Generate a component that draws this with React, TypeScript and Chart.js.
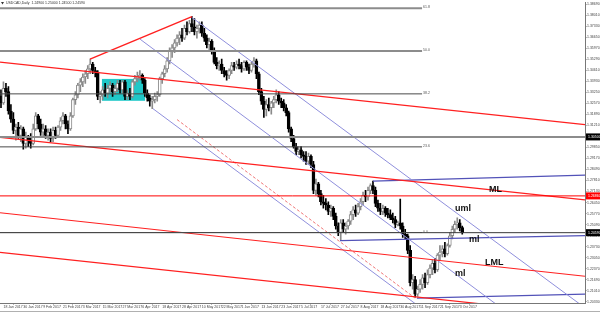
import React, { useEffect, useRef } from "react";
import { Chart, registerables } from "chart.js";

Chart.register(...registerables);

// ---- Daily USDCAD candles (bar 0 = 16 Jan 2017) ----
const opens = [
  1.3280, 1.3300, 1.3260, 1.3350, 1.3330, 1.3210, 1.3160, 1.3090, 1.3110, 1.3060,
  1.3100, 1.3010, 1.3050, 1.3030, 1.3010, 1.3100, 1.3180, 1.3130, 1.3080, 1.3100,
  1.3060, 1.3080, 1.3040, 1.3090, 1.3060, 1.3110, 1.3150, 1.3180, 1.3130, 1.3100,
  1.3180, 1.3280, 1.3310, 1.3370, 1.3390, 1.3420, 1.3440, 1.3470, 1.3500, 1.3460,
  1.3450, 1.3300, 1.3310, 1.3340, 1.3320, 1.3350, 1.3370, 1.3330, 1.3350, 1.3380,
  1.3340, 1.3390, 1.3300, 1.3320, 1.3300, 1.3390, 1.3410, 1.3420, 1.3430, 1.3400,
  1.3320, 1.3290, 1.3270, 1.3280, 1.3300, 1.3310, 1.3410, 1.3440, 1.3470, 1.3520,
  1.3580, 1.3600, 1.3630, 1.3660, 1.3680, 1.3660, 1.3720, 1.3700, 1.3750, 1.3730,
  1.3700, 1.3720, 1.3740, 1.3690, 1.3660, 1.3620, 1.3640, 1.3580, 1.3510, 1.3490,
  1.3500, 1.3460, 1.3440, 1.3430, 1.3460, 1.3490, 1.3480, 1.3500, 1.3490, 1.3470,
  1.3510, 1.3480, 1.3460, 1.3500, 1.3520, 1.3440, 1.3330, 1.3270, 1.3220, 1.3250,
  1.3230, 1.3260, 1.3280, 1.3310, 1.3270, 1.3260, 1.3230, 1.3200, 1.3100, 1.3040,
  1.2990, 1.2960, 1.2970, 1.2940, 1.2930, 1.2900, 1.2930, 1.2880, 1.2720, 1.2760,
  1.2700, 1.2650, 1.2640, 1.2630, 1.2590, 1.2610, 1.2560, 1.2500, 1.2460, 1.2520,
  1.2480, 1.2500, 1.2530, 1.2570, 1.2600, 1.2580, 1.2620, 1.2650, 1.2690, 1.2680,
  1.2720, 1.2750, 1.2720, 1.2640, 1.2610, 1.2590, 1.2610, 1.2580, 1.2570, 1.2550,
  1.2540, 1.2510, 1.2520, 1.2500, 1.2450, 1.2440, 1.2350, 1.2150, 1.2170, 1.2080,
  1.2110, 1.2140, 1.2180, 1.2150, 1.2200, 1.2240, 1.2270, 1.2230, 1.2320, 1.2340,
  1.2360, 1.2330, 1.2380, 1.2440, 1.2480, 1.2510, 1.2520, 1.2490,
];
const highs = [
  1.3320, 1.3340, 1.3390, 1.3380, 1.3360, 1.3250, 1.3200, 1.3130, 1.3140, 1.3120,
  1.3110, 1.3080, 1.3060, 1.3070, 1.3130, 1.3200, 1.3190, 1.3160, 1.3130, 1.3120,
  1.3100, 1.3100, 1.3110, 1.3110, 1.3120, 1.3170, 1.3200, 1.3190, 1.3150, 1.3200,
  1.3290, 1.3330, 1.3380, 1.3410, 1.3440, 1.3460, 1.3490, 1.3530, 1.3510, 1.3480,
  1.3460, 1.3330, 1.3360, 1.3380, 1.3370, 1.3390, 1.3380, 1.3370, 1.3400, 1.3400,
  1.3400, 1.3400, 1.3340, 1.3350, 1.3400, 1.3430, 1.3450, 1.3460, 1.3440, 1.3410,
  1.3340, 1.3310, 1.3300, 1.3320, 1.3330, 1.3420, 1.3450, 1.3490, 1.3540, 1.3600,
  1.3620, 1.3650, 1.3680, 1.3700, 1.3720, 1.3740, 1.3760, 1.3770, 1.3793, 1.3780,
  1.3740, 1.3760, 1.3760, 1.3720, 1.3680, 1.3660, 1.3650, 1.3600, 1.3540, 1.3520,
  1.3530, 1.3480, 1.3460, 1.3470, 1.3510, 1.3510, 1.3520, 1.3530, 1.3510, 1.3520,
  1.3520, 1.3500, 1.3510, 1.3540, 1.3530, 1.3450, 1.3350, 1.3300, 1.3280, 1.3290,
  1.3270, 1.3300, 1.3340, 1.3330, 1.3290, 1.3280, 1.3250, 1.3210, 1.3110, 1.3060,
  1.3010, 1.2990, 1.2990, 1.2960, 1.2960, 1.2950, 1.2940, 1.2900, 1.2790, 1.2770,
  1.2720, 1.2690, 1.2670, 1.2650, 1.2630, 1.2620, 1.2580, 1.2520, 1.2540, 1.2540,
  1.2520, 1.2540, 1.2590, 1.2620, 1.2630, 1.2640, 1.2670, 1.2710, 1.2720, 1.2740,
  1.2760, 1.2777, 1.2740, 1.2660, 1.2640, 1.2630, 1.2620, 1.2610, 1.2600, 1.2580,
  1.2560, 1.2530, 1.2667, 1.2520, 1.2480, 1.2450, 1.2380, 1.2200, 1.2190, 1.2130,
  1.2170, 1.2200, 1.2210, 1.2230, 1.2260, 1.2290, 1.2300, 1.2330, 1.2380, 1.2380,
  1.2400, 1.2390, 1.2460, 1.2500, 1.2530, 1.2550, 1.2540, 1.2500,
];
const lows = [
  1.3240, 1.3230, 1.3250, 1.3300, 1.3190, 1.3140, 1.3070, 1.3030, 1.3040, 1.3020,
  1.2975, 1.2980, 1.2990, 1.2980, 1.3000, 1.3090, 1.3100, 1.3060, 1.3050, 1.3040,
  1.3030, 1.3020, 1.3020, 1.3040, 1.3050, 1.3090, 1.3130, 1.3100, 1.3070, 1.3090,
  1.3170, 1.3250, 1.3290, 1.3330, 1.3360, 1.3380, 1.3410, 1.3440, 1.3440, 1.3420,
  1.3280, 1.3260, 1.3280, 1.3300, 1.3290, 1.3320, 1.3300, 1.3310, 1.3330, 1.3320,
  1.3320, 1.3280, 1.3280, 1.3280, 1.3290, 1.3370, 1.3390, 1.3400, 1.3380, 1.3300,
  1.3270, 1.3240, 1.3225, 1.3260, 1.3270, 1.3300, 1.3380, 1.3420, 1.3450, 1.3500,
  1.3540, 1.3570, 1.3610, 1.3620, 1.3640, 1.3650, 1.3680, 1.3690, 1.3700, 1.3680,
  1.3660, 1.3690, 1.3670, 1.3640, 1.3600, 1.3580, 1.3560, 1.3500, 1.3470, 1.3460,
  1.3440, 1.3420, 1.3400, 1.3410, 1.3440, 1.3460, 1.3470, 1.3470, 1.3450, 1.3460,
  1.3460, 1.3440, 1.3450, 1.3480, 1.3410, 1.3310, 1.3250, 1.3170, 1.3180, 1.3210,
  1.3190, 1.3230, 1.3260, 1.3250, 1.3230, 1.3210, 1.3180, 1.3080, 1.3020, 1.2980,
  1.2940, 1.2940, 1.2920, 1.2900, 1.2880, 1.2880, 1.2860, 1.2700, 1.2690, 1.2680,
  1.2630, 1.2610, 1.2600, 1.2570, 1.2560, 1.2540, 1.2480, 1.2440, 1.2413, 1.2460,
  1.2450, 1.2480, 1.2510, 1.2540, 1.2560, 1.2570, 1.2600, 1.2630, 1.2650, 1.2660,
  1.2700, 1.2700, 1.2620, 1.2590, 1.2570, 1.2570, 1.2560, 1.2550, 1.2540, 1.2520,
  1.2490, 1.2500, 1.2480, 1.2430, 1.2420, 1.2330, 1.2130, 1.2110, 1.2061, 1.2065,
  1.2090, 1.2110, 1.2120, 1.2140, 1.2180, 1.2200, 1.2210, 1.2220, 1.2290, 1.2310,
  1.2310, 1.2320, 1.2370, 1.2420, 1.2460, 1.2480, 1.2470, 1.2450,
];
const closes = [
  1.3300, 1.3260, 1.3350, 1.3330, 1.3210, 1.3160, 1.3090, 1.3110, 1.3060, 1.3100,
  1.3010, 1.3050, 1.3030, 1.3010, 1.3100, 1.3180, 1.3130, 1.3080, 1.3100, 1.3060,
  1.3080, 1.3040, 1.3090, 1.3060, 1.3110, 1.3150, 1.3180, 1.3130, 1.3100, 1.3180,
  1.3280, 1.3310, 1.3370, 1.3390, 1.3420, 1.3440, 1.3470, 1.3500, 1.3460, 1.3450,
  1.3300, 1.3310, 1.3340, 1.3320, 1.3350, 1.3370, 1.3330, 1.3350, 1.3380, 1.3340,
  1.3390, 1.3300, 1.3320, 1.3300, 1.3390, 1.3410, 1.3420, 1.3430, 1.3400, 1.3320,
  1.3290, 1.3270, 1.3280, 1.3300, 1.3310, 1.3410, 1.3440, 1.3470, 1.3520, 1.3580,
  1.3600, 1.3630, 1.3660, 1.3680, 1.3660, 1.3720, 1.3700, 1.3750, 1.3730, 1.3700,
  1.3720, 1.3740, 1.3690, 1.3660, 1.3620, 1.3640, 1.3580, 1.3510, 1.3490, 1.3500,
  1.3460, 1.3440, 1.3430, 1.3460, 1.3490, 1.3480, 1.3500, 1.3490, 1.3470, 1.3510,
  1.3480, 1.3460, 1.3500, 1.3520, 1.3440, 1.3330, 1.3270, 1.3220, 1.3250, 1.3230,
  1.3260, 1.3280, 1.3310, 1.3270, 1.3260, 1.3230, 1.3200, 1.3100, 1.3040, 1.2990,
  1.2960, 1.2970, 1.2940, 1.2930, 1.2900, 1.2930, 1.2880, 1.2720, 1.2760, 1.2700,
  1.2650, 1.2640, 1.2630, 1.2590, 1.2610, 1.2560, 1.2500, 1.2460, 1.2520, 1.2480,
  1.2500, 1.2530, 1.2570, 1.2600, 1.2580, 1.2620, 1.2650, 1.2690, 1.2680, 1.2720,
  1.2750, 1.2720, 1.2640, 1.2610, 1.2590, 1.2610, 1.2580, 1.2570, 1.2550, 1.2540,
  1.2510, 1.2520, 1.2500, 1.2450, 1.2440, 1.2350, 1.2150, 1.2170, 1.2080, 1.2110,
  1.2140, 1.2180, 1.2150, 1.2200, 1.2240, 1.2270, 1.2230, 1.2320, 1.2340, 1.2360,
  1.2330, 1.2380, 1.2440, 1.2480, 1.2510, 1.2520, 1.2490, 1.2459,
];

// ---- axis tick labels ----
const xTickIndex = [2, 10, 18, 26, 34, 42, 50, 58, 66, 74, 82, 90, 98, 106, 114, 122, 130, 138, 146, 154, 162, 170, 178, 186];
const xTickLabels = [
  "18 Jan 2017", "30 Jan 2017", "9 Feb 2017", "21 Feb 2017", "3 Mar 2017", "15 Mar 2017",
  "27 Mar 2017", "6 Apr 2017", "18 Apr 2017", "28 Apr 2017", "10 May 2017", "22 May 2017",
  "1 Jun 2017", "13 Jun 2017", "23 Jun 2017", "5 Jul 2017", "17 Jul 2017", "27 Jul 2017",
  "8 Aug 2017", "18 Aug 2017", "30 Aug 2017", "11 Sep 2017", "21 Sep 2017", "3 Oct 2017",
];
const yTickValues = [
  1.3869, 1.3801, 1.3733, 1.3665, 1.3597, 1.3529, 1.3461, 1.3393, 1.3325, 1.3257,
  1.3189, 1.3121, 1.3053, 1.2985, 1.2917, 1.2849, 1.2781, 1.2713, 1.2645, 1.2577,
  1.2509, 1.2441, 1.2373, 1.2305, 1.2237, 1.2169, 1.2101, 1.2033,
];

// ---- drawn objects (bar index, price) ----
const redChannelTop = [[0.6, 1.3512], [236.5, 1.3126]];
const medianLine = [[0.6, 1.3047], [236.5, 1.2661]];
const lowerMedianLine = [[0.6, 1.2582], [236.5, 1.2190]];
const redChannelBottom = [[0.6, 1.2337], [236.5, 1.1951]];
const redHighsLine = [[36.9, 1.3530], [78, 1.3793]];
const pinkDashedLine = [[72, 1.3157], [168, 1.2055]];
const umlLine = [[78, 1.3787], [242.5, 1.1927]];
const mlLine = [[57.1, 1.3653], [242.5, 1.1541]];
const lowerBlueLine = [[62.3, 1.3224], [242.5, 1.1174]];
const blueHandleTop = [[151, 1.2777], [236.5, 1.2814]];
const blueHandleMid = [[137.7, 1.2410], [236.5, 1.2441]];
const blueHandleLow = [[168.7, 1.2055], [236.5, 1.2080]];
const cyanBox = [[41.7, 1.3408], [59.1, 1.3273]];

const supportLevel = 1.3050;
const redLevel = 1.2686;
const bidPrice = closes[closes.length - 1];

const fibZero = 1.2460;
const fibHundred = 1.4700;
const fibRatios = [0, 23.6, 38.2, 50.0, 61.8];
const fibEndIndex = 170.8;

const lineLabels = [
  { text: "ML", x: 197.8, y: 1.2728 },
  { text: "uml", x: 184.1, y: 1.2606 },
  { text: "ml", x: 189.7, y: 1.2416 },
  { text: "LML", x: 196.2, y: 1.2276 },
  { text: "ml", x: 184.1, y: 1.2210 },
];

const X_MIN = 0.6;
const X_MAX = 236.5;
const Y_MIN = 1.2025;
const Y_MAX = 1.3879;

const SMALL_FONT = "Liberation Sans";

function lineDs(points: number[][], color: string, width: number, dash: number[] = []) {
  return {
    type: "line" as const,
    data: points.map(([x, y]) => ({ x, y })),
    borderColor: color,
    borderWidth: width,
    borderDash: dash,
    pointRadius: 0,
    fill: false,
    tension: 0,
    order: 0,
  };
}

const overlayPlugin = {
  id: "mtOverlay",
  beforeDatasetsDraw(chart: any) {
    const { ctx, scales } = chart;
    const x = scales.x, y = scales.y;
    const x1 = x.getPixelForValue(cyanBox[0][0]);
    const x2 = x.getPixelForValue(cyanBox[1][0]);
    const y1 = y.getPixelForValue(cyanBox[0][1]);
    const y2 = y.getPixelForValue(cyanBox[1][1]);
    ctx.save();
    ctx.fillStyle = "#20c8c8";
    ctx.fillRect(x1, y1, x2 - x1, y2 - y1);
    ctx.restore();
  },
  afterDatasetsDraw(chart: any) {
    const { ctx, scales } = chart;
    const x = scales.x, y = scales.y;
    ctx.save();
    ctx.font = `3.5px "${SMALL_FONT}"`;
    ctx.fillStyle = "#555";
    ctx.textAlign = "left";
    ctx.textBaseline = "bottom";
    const fx = x.getPixelForValue(fibEndIndex) + 1;
    fibRatios.forEach((r) => {
      const p = fibZero + (fibHundred - fibZero) * (r / 100);
      ctx.fillText(r.toFixed(1), fx, y.getPixelForValue(p) + 1);
    });
    ctx.font = `bold 9px "Liberation Sans", Arial, sans-serif`;
    ctx.fillStyle = "#111";
    ctx.textBaseline = "middle";
    lineLabels.forEach((l) => {
      ctx.fillText(l.text, x.getPixelForValue(l.x), y.getPixelForValue(l.y));
    });
    ctx.restore();
  },
  afterDraw(chart: any) {
    const { ctx, scales, chartArea, width } = chart;
    const y = scales.y;
    ctx.save();
    const x0 = chartArea.right + 1;
    const boxes = [
      { v: supportLevel, bg: "#000", fg: "#fff" },
      { v: redLevel, bg: "#ff0000", fg: "#fff" },
      { v: bidPrice, bg: "#000", fg: "#fff" },
    ];
    ctx.font = `3.5px "${SMALL_FONT}"`;
    ctx.textAlign = "left";
    ctx.textBaseline = "middle";
    boxes.forEach((b) => {
      const py = y.getPixelForValue(b.v);
      ctx.fillStyle = b.bg;
      ctx.fillRect(x0, py - 3.5, width - x0, 7);
      ctx.fillStyle = b.fg;
      ctx.fillText(b.v.toFixed(5), x0 + 2, py);
    });
    ctx.fillStyle = "#333";
    ctx.beginPath();
    ctx.moveTo(1, 2);
    ctx.lineTo(4, 2);
    ctx.lineTo(2.5, 4.5);
    ctx.closePath();
    ctx.fill();
    ctx.font = `3.5px "${SMALL_FONT}"`;
    ctx.fillText(
      `USDCAD,Daily  ${opens[opens.length - 1].toFixed(5)} ${highs[highs.length - 1].toFixed(5)} ${lows[lows.length - 1].toFixed(5)} ${closes[closes.length - 1].toFixed(5)}`,
      6,
      3.5
    );
    ctx.strokeStyle = "#b0b0b0";
    ctx.lineWidth = 1;
    ctx.beginPath();
    ctx.moveTo(0, 311.5);
    ctx.lineTo(width, 311.5);
    ctx.stroke();
    ctx.restore();
  },
};

export default function App() {
  const ref = useRef<HTMLCanvasElement>(null);
  useEffect(() => {
    if (!ref.current) return;
    const bull = closes.map((c, i) => c >= opens[i]);
    const idx = closes.map((_, i) => i);
    const fibDatasets = fibRatios.map((r) => {
      const p = fibZero + (fibHundred - fibZero) * (r / 100);
      const thick = r >= 50;
      return lineDs([[X_MIN, p], [fibEndIndex, p]], thick ? "#8c8c8c" : "#4a4a4a", thick ? 2 : 1);
    });
    const chart = new Chart(ref.current, {
      type: "bar",
      data: {
        datasets: [
          {
            data: idx.map((i) => ({ x: i, y: [lows[i], highs[i]] })) as any,
            backgroundColor: bull.map((b) => (b ? "#8a8a8a" : "#000")),
            borderWidth: 0,
            barThickness: 1,
            grouped: false,
            order: 2,
          } as any,
          {
            data: idx.map((i) => ({ x: i, y: [opens[i], closes[i]] })) as any,
            backgroundColor: bull.map((b) => (b ? "#ffffff" : "#000")),
            borderColor: bull.map((b) => (b ? "#8a8a8a" : "#000")),
            borderWidth: 1,
            borderSkipped: false,
            barThickness: 3,
            grouped: false,
            order: 1,
          } as any,
          ...fibDatasets,
          lineDs([[X_MIN, supportLevel], [X_MAX, supportLevel]], "#8c8c8c", 2),
          lineDs([[X_MIN, bidPrice], [X_MAX, bidPrice]], "#3a3a3a", 1),
          lineDs([[X_MIN, redLevel], [X_MAX, redLevel]], "#ff0000", 1),
          lineDs(redChannelTop, "#ff2020", 1.2),
          lineDs(medianLine, "#ff2020", 1.2),
          lineDs(lowerMedianLine, "#ff2020", 1.2),
          lineDs(redChannelBottom, "#ff2020", 1.2),
          lineDs(redHighsLine, "#ff2020", 1.4),
          lineDs(pinkDashedLine, "#f07878", 1, [3, 2]),
          lineDs(umlLine, "#8f8fdc", 1),
          lineDs(mlLine, "#8f8fdc", 1),
          lineDs(lowerBlueLine, "#8f8fdc", 1),
          lineDs(blueHandleTop, "#5252b8", 1.2),
          lineDs(blueHandleMid, "#5252b8", 1.2),
          lineDs(blueHandleLow, "#5252b8", 1.2),
        ] as any,
      },
      options: {
        responsive: false,
        animation: false,
        events: [],
        layout: { padding: 0, autoPadding: false } as any,
        plugins: { legend: { display: false }, tooltip: { enabled: false } },
        scales: {
          x: {
            type: "linear",
            min: X_MIN,
            max: X_MAX,
            offset: false,
            afterBuildTicks: (s: any) => {
              s.ticks = xTickIndex.map((v) => ({ value: v }));
            },
            afterFit: (s: any) => {
              s.height = 10;
            },
            grid: { drawOnChartArea: false, drawTicks: true, tickLength: 1.5, color: "#777" },
            border: { display: true, color: "#777", width: 1 },
            ticks: {
              autoSkip: false,
              maxRotation: 0,
              minRotation: 0,
              align: "start",
              padding: 0.5,
              color: "#444",
              font: { size: 3.5, family: SMALL_FONT },
              callback: (v: any) => {
                const k = xTickIndex.indexOf(Number(v));
                return k >= 0 ? xTickLabels[k] : "";
              },
            },
          },
          y: {
            type: "linear",
            position: "right",
            min: Y_MIN,
            max: Y_MAX,
            afterBuildTicks: (s: any) => {
              s.ticks = yTickValues.map((v) => ({ value: v }));
            },
            afterFit: (s: any) => {
              s.width = 15;
            },
            grid: { drawOnChartArea: false, drawTicks: true, tickLength: 1.5, color: "#777" },
            border: { display: true, color: "#777", width: 1 },
            ticks: {
              padding: 0.5,
              color: "#444",
              font: { size: 3.5, family: SMALL_FONT },
              callback: (v: any) => Number(v).toFixed(5),
            },
          },
        },
      } as any,
      plugins: [overlayPlugin],
    });
    return () => chart.destroy();
  }, []);
  return (
    <div style={{ position: "absolute", left: 0, top: 0, width: 600, height: 313, background: "#fff" }}>
      <canvas ref={ref} width={600} height={313} style={{ display: "block" }} />
    </div>
  );
}
